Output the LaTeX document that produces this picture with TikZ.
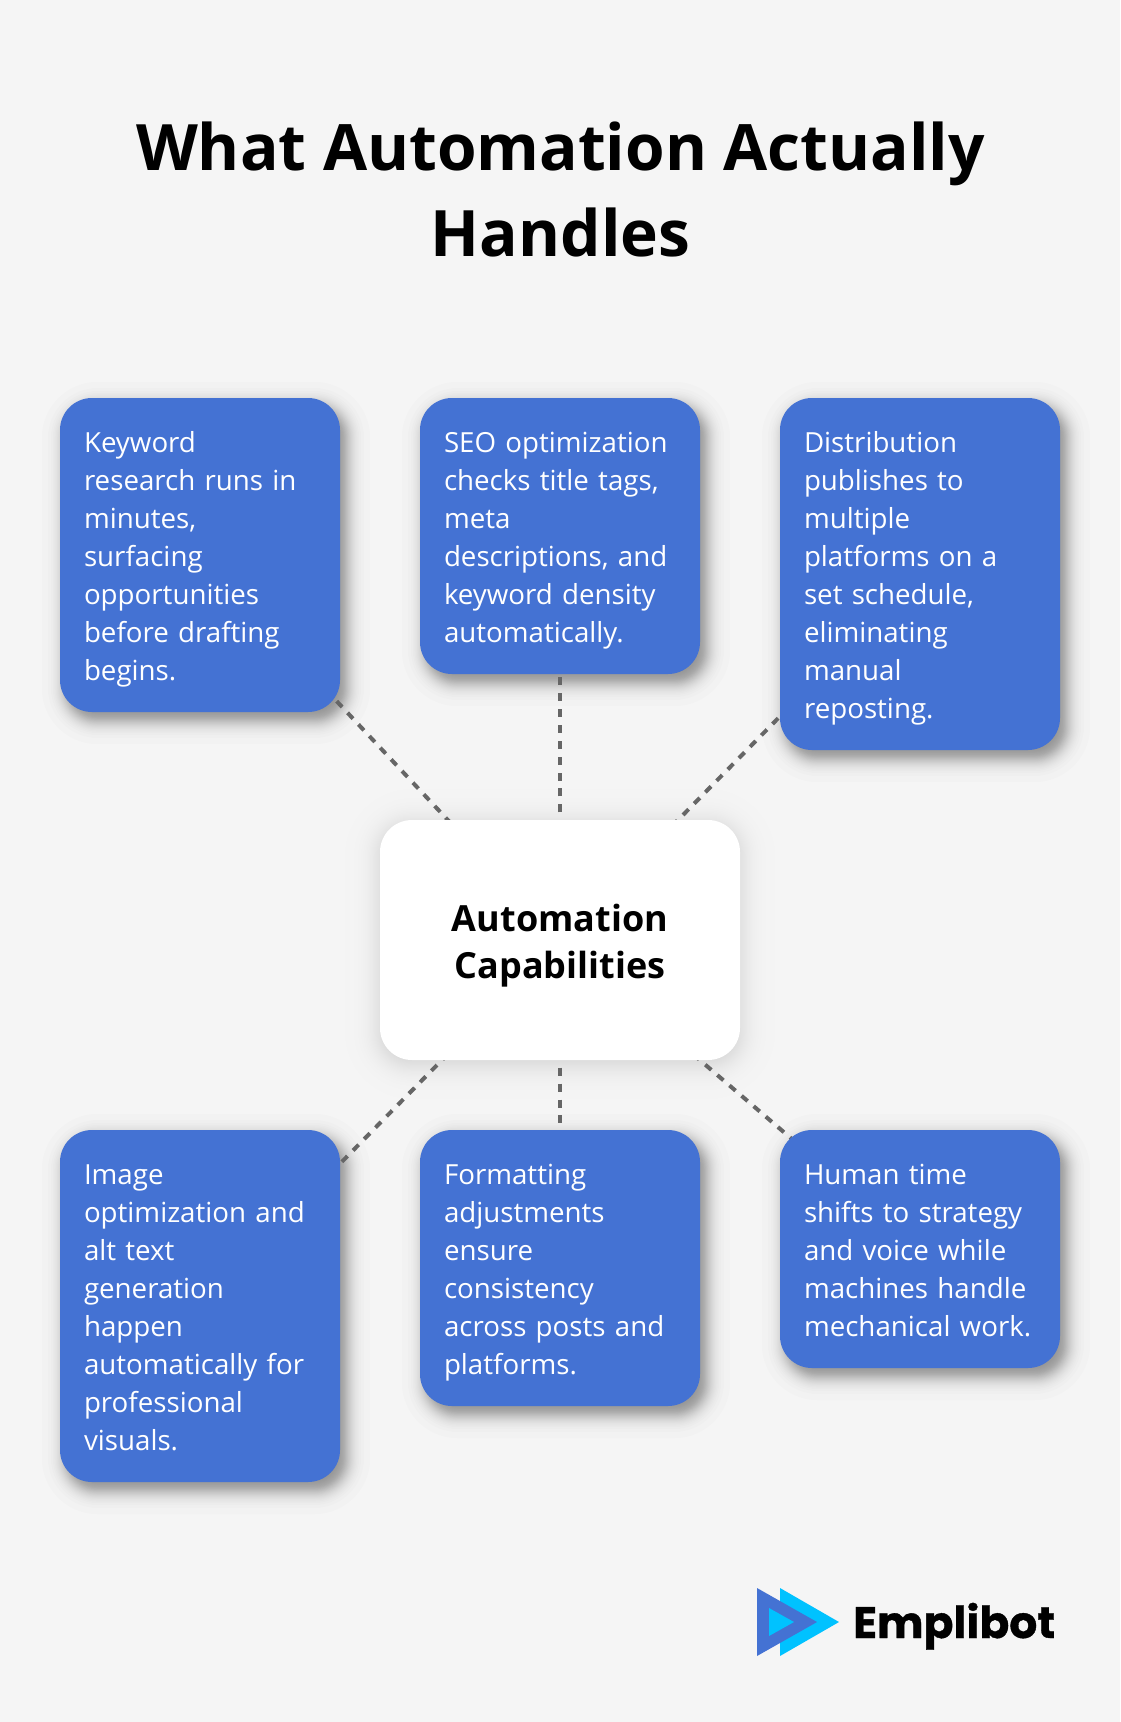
\documentclass[tikz,border=0pt]{standalone}
\usepackage{fontspec}
\setmainfont{Open Sans}
\newfontfamily\logofont[BoldFeatures={FakeBold=0.8}]{Poppins}
\usepackage{tikz}
\usetikzlibrary{calc}
\usetikzlibrary{backgrounds}

\definecolor{pagegray}{HTML}{F5F5F5}
\definecolor{boxblue}{HTML}{4472D3}
\definecolor{logocyan}{HTML}{00C2FF}
\definecolor{linkgray}{HTML}{666666}

\newcommand{\capstrut}{\rule[-7.3pt]{0pt}{38pt}}
\newcommand{\hubstrut}{\rule{0pt}{37.8pt}}

\tikzset{
	capbox/.style={fill=boxblue,text=white,rounded corners=32pt,minimum width=280pt,text width=232pt,inner xsep=24pt,inner ysep=0pt,align=left,font=\fontsize{27.7}{38}\selectfont,execute at begin node=\capstrut,execute at end node=\capstrut},
	hubbox/.style={fill=white,text=black,rounded corners=32pt,minimum width=360pt,minimum height=240pt,text width=300pt,inner xsep=30pt,inner ysep=0pt,align=center,font=\fontsize{36}{47}\selectfont\bfseries,execute at begin node=\hubstrut},
	titletext/.style={align=center,text=black,font=\fontsize{64}{86.5}\selectfont\bfseries},
	link/.style={draw=linkgray,line width=4pt,dash pattern=on 8pt off 7.95pt},
}

% stacked translucent rectangles for a soft shadow
\newcommand{\softshadow}[6]{%
	\foreach \i in {1,...,#5}{
		\pgfmathsetmacro{\k}{#4*ln((\i-.5)/(#5-\i+.5))}
		\pgfmathsetmacro{\rad}{max(32+\k,1)}
		\fill[black,opacity=#6,rounded corners=\rad pt] ($(#1.north west)+(#2-\k,#3-\k)$) rectangle ($(#1.south east)+(#2+\k,#3+\k)$);
	}
}

\begin{document}
\begin{tikzpicture}[x=1pt,y=-1pt]
		\useasboundingbox (0,0) rectangle (1120,1722);

		\node[titletext] (title) at (560.5,189.5) {What Automation Actually\\Handles};

		\node[hubbox] (hub) at (560,940) {Automation\\Capabilities};

		\node[capbox,minimum height=314pt] (keyword) at (200,555) {Keyword\\research runs in\\minutes,\\surfacing\\opportunities\\before drafting\\begins.};
		\node[capbox,minimum height=276pt] (seo) at (560,536) {SEO optimization\\checks title tags,\\meta\\descriptions, and\\keyword density\\automatically.};
		\node[capbox,minimum height=352pt] (distribution) at (920,574) {Distribution\\publishes to\\multiple\\platforms on a\\set schedule,\\eliminating\\manual\\reposting.};

		\node[capbox,minimum height=352pt] (image) at (200,1306) {Image\\optimization and\\alt text\\generation\\happen\\automatically for\\professional\\visuals.};
		\node[capbox,minimum height=276pt] (formatting) at (560,1268) {Formatting\\adjustments\\ensure\\consistency\\across posts and\\platforms.};
		\node[capbox,minimum height=238pt] (human) at (920,1249) {Human time\\shifts to strategy\\and voice while\\machines handle\\mechanical work.};

		\begin{pgfonlayer}{background}
			\fill[pagegray] (0,0) rectangle (1120,1722);

			\softshadow{hub}{0}{4}{8}{40}{0.0055}
			\foreach \capname in {keyword,seo,distribution,image,formatting,human}{
				\softshadow{\capname}{6}{8}{5.5}{40}{0.0115}
			}

			\foreach \capname in {keyword,seo,distribution,image,formatting,human}{
				\draw[link] (hub.center) -- (\capname.center);
			}
		\end{pgfonlayer}

		% logo
		\fill[logocyan] (780,1588) -- (780,1656) -- (839,1622) -- cycle;
		\fill[boxblue] (757,1588) -- (757,1656) -- (817,1622) -- cycle;
		\fill[logocyan] (769,1608) -- (769,1636) -- (794,1622) -- cycle;
		\node[anchor=base west,inner sep=0pt,text=black,font=\logofont\fontsize{44}{44}\selectfont\bfseries] (brand) at (853,1638) {Emplibot};
	\end{tikzpicture}
\end{document}
